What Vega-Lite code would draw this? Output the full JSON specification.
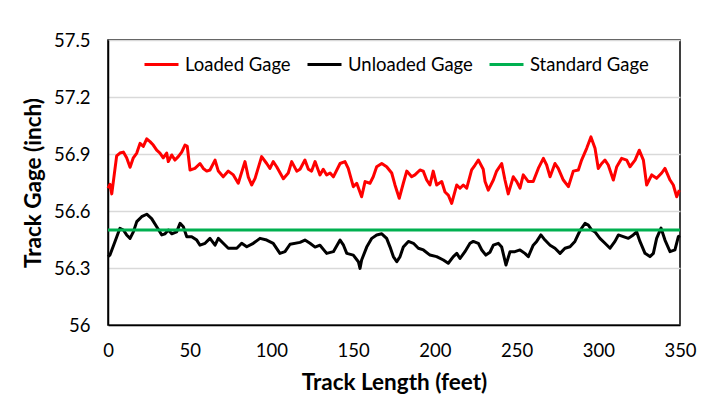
{
  "$schema": "https://vega.github.io/schema/vega-lite/v6.json",
  "width": 572,
  "height": 285,
  "autosize": {"type": "none"},
  "padding": {"left": 108, "top": 40, "right": 24, "bottom": 80},
  "background": "#ffffff",
  "config": {
    "view": {"stroke": "#000000", "strokeWidth": 1.5},
    "font": "Lato"
  },
  "datasets": {
    "gage": [
      {"s": "Loaded Gage", "ft": 0, "v": 56.72},
      {"s": "Loaded Gage", "ft": 1.2, "v": 56.74},
      {"s": "Loaded Gage", "ft": 2.3, "v": 56.69},
      {"s": "Loaded Gage", "ft": 5.3, "v": 56.89},
      {"s": "Loaded Gage", "ft": 7.3, "v": 56.905},
      {"s": "Loaded Gage", "ft": 9.4, "v": 56.91},
      {"s": "Loaded Gage", "ft": 11.4, "v": 56.88},
      {"s": "Loaded Gage", "ft": 13.5, "v": 56.83},
      {"s": "Loaded Gage", "ft": 15.5, "v": 56.88},
      {"s": "Loaded Gage", "ft": 17.6, "v": 56.905},
      {"s": "Loaded Gage", "ft": 19.6, "v": 56.956},
      {"s": "Loaded Gage", "ft": 21.6, "v": 56.94},
      {"s": "Loaded Gage", "ft": 23.7, "v": 56.98},
      {"s": "Loaded Gage", "ft": 25.7, "v": 56.965},
      {"s": "Loaded Gage", "ft": 27.7, "v": 56.947},
      {"s": "Loaded Gage", "ft": 29.8, "v": 56.92},
      {"s": "Loaded Gage", "ft": 31.8, "v": 56.905},
      {"s": "Loaded Gage", "ft": 33.8, "v": 56.88},
      {"s": "Loaded Gage", "ft": 35.9, "v": 56.905},
      {"s": "Loaded Gage", "ft": 36.9, "v": 56.86},
      {"s": "Loaded Gage", "ft": 39.0, "v": 56.895},
      {"s": "Loaded Gage", "ft": 41.0, "v": 56.868},
      {"s": "Loaded Gage", "ft": 43.0, "v": 56.886},
      {"s": "Loaded Gage", "ft": 45.1, "v": 56.91},
      {"s": "Loaded Gage", "ft": 47.1, "v": 56.947},
      {"s": "Loaded Gage", "ft": 48.5, "v": 56.94},
      {"s": "Loaded Gage", "ft": 50.2, "v": 56.816},
      {"s": "Loaded Gage", "ft": 53.2, "v": 56.824},
      {"s": "Loaded Gage", "ft": 56.3, "v": 56.85},
      {"s": "Loaded Gage", "ft": 58.3, "v": 56.824},
      {"s": "Loaded Gage", "ft": 60.4, "v": 56.81},
      {"s": "Loaded Gage", "ft": 62.4, "v": 56.816},
      {"s": "Loaded Gage", "ft": 65.5, "v": 56.868},
      {"s": "Loaded Gage", "ft": 67.5, "v": 56.81},
      {"s": "Loaded Gage", "ft": 70.5, "v": 56.78},
      {"s": "Loaded Gage", "ft": 73.6, "v": 56.81},
      {"s": "Loaded Gage", "ft": 76.7, "v": 56.79},
      {"s": "Loaded Gage", "ft": 79.7, "v": 56.746},
      {"s": "Loaded Gage", "ft": 83.8, "v": 56.86},
      {"s": "Loaded Gage", "ft": 85.8, "v": 56.78},
      {"s": "Loaded Gage", "ft": 87.9, "v": 56.737},
      {"s": "Loaded Gage", "ft": 90.0, "v": 56.772},
      {"s": "Loaded Gage", "ft": 94.0, "v": 56.886},
      {"s": "Loaded Gage", "ft": 97.1, "v": 56.85},
      {"s": "Loaded Gage", "ft": 99.1, "v": 56.824},
      {"s": "Loaded Gage", "ft": 101.1, "v": 56.86},
      {"s": "Loaded Gage", "ft": 103.2, "v": 56.833},
      {"s": "Loaded Gage", "ft": 107.3, "v": 56.77},
      {"s": "Loaded Gage", "ft": 110.3, "v": 56.8},
      {"s": "Loaded Gage", "ft": 112.4, "v": 56.86},
      {"s": "Loaded Gage", "ft": 115.5, "v": 56.81},
      {"s": "Loaded Gage", "ft": 117.5, "v": 56.82},
      {"s": "Loaded Gage", "ft": 120.5, "v": 56.868},
      {"s": "Loaded Gage", "ft": 122.6, "v": 56.82},
      {"s": "Loaded Gage", "ft": 124.6, "v": 56.81},
      {"s": "Loaded Gage", "ft": 126.7, "v": 56.86},
      {"s": "Loaded Gage", "ft": 129.7, "v": 56.79},
      {"s": "Loaded Gage", "ft": 131.7, "v": 56.82},
      {"s": "Loaded Gage", "ft": 133.8, "v": 56.79},
      {"s": "Loaded Gage", "ft": 135.9, "v": 56.8},
      {"s": "Loaded Gage", "ft": 137.9, "v": 56.78},
      {"s": "Loaded Gage", "ft": 142.0, "v": 56.85},
      {"s": "Loaded Gage", "ft": 145.0, "v": 56.86},
      {"s": "Loaded Gage", "ft": 147.0, "v": 56.824},
      {"s": "Loaded Gage", "ft": 150.1, "v": 56.728},
      {"s": "Loaded Gage", "ft": 152.2, "v": 56.746},
      {"s": "Loaded Gage", "ft": 155.2, "v": 56.675},
      {"s": "Loaded Gage", "ft": 157.3, "v": 56.755},
      {"s": "Loaded Gage", "ft": 160.3, "v": 56.746},
      {"s": "Loaded Gage", "ft": 162.3, "v": 56.78},
      {"s": "Loaded Gage", "ft": 164.4, "v": 56.833},
      {"s": "Loaded Gage", "ft": 167.5, "v": 56.85},
      {"s": "Loaded Gage", "ft": 170.5, "v": 56.833},
      {"s": "Loaded Gage", "ft": 173.6, "v": 56.8},
      {"s": "Loaded Gage", "ft": 175.6, "v": 56.737},
      {"s": "Loaded Gage", "ft": 178.2, "v": 56.667},
      {"s": "Loaded Gage", "ft": 180.7, "v": 56.746},
      {"s": "Loaded Gage", "ft": 182.8, "v": 56.81},
      {"s": "Loaded Gage", "ft": 185.8, "v": 56.78},
      {"s": "Loaded Gage", "ft": 187.8, "v": 56.79},
      {"s": "Loaded Gage", "ft": 190.9, "v": 56.816},
      {"s": "Loaded Gage", "ft": 192.9, "v": 56.81},
      {"s": "Loaded Gage", "ft": 195.0, "v": 56.763},
      {"s": "Loaded Gage", "ft": 197.0, "v": 56.737},
      {"s": "Loaded Gage", "ft": 199.0, "v": 56.81},
      {"s": "Loaded Gage", "ft": 201.1, "v": 56.737},
      {"s": "Loaded Gage", "ft": 204.2, "v": 56.755},
      {"s": "Loaded Gage", "ft": 206.2, "v": 56.7},
      {"s": "Loaded Gage", "ft": 208.2, "v": 56.684},
      {"s": "Loaded Gage", "ft": 210.3, "v": 56.64},
      {"s": "Loaded Gage", "ft": 213.4, "v": 56.737},
      {"s": "Loaded Gage", "ft": 215.4, "v": 56.72},
      {"s": "Loaded Gage", "ft": 217.4, "v": 56.737},
      {"s": "Loaded Gage", "ft": 219.5, "v": 56.72},
      {"s": "Loaded Gage", "ft": 222.5, "v": 56.816},
      {"s": "Loaded Gage", "ft": 224.6, "v": 56.842},
      {"s": "Loaded Gage", "ft": 226.6, "v": 56.868},
      {"s": "Loaded Gage", "ft": 229.6, "v": 56.82},
      {"s": "Loaded Gage", "ft": 230.7, "v": 56.755},
      {"s": "Loaded Gage", "ft": 232.7, "v": 56.71},
      {"s": "Loaded Gage", "ft": 235.8, "v": 56.763},
      {"s": "Loaded Gage", "ft": 237.8, "v": 56.81},
      {"s": "Loaded Gage", "ft": 240.9, "v": 56.85},
      {"s": "Loaded Gage", "ft": 242.9, "v": 56.763},
      {"s": "Loaded Gage", "ft": 244.9, "v": 56.69},
      {"s": "Loaded Gage", "ft": 248.0, "v": 56.78},
      {"s": "Loaded Gage", "ft": 250.1, "v": 56.755},
      {"s": "Loaded Gage", "ft": 252.1, "v": 56.72},
      {"s": "Loaded Gage", "ft": 254.1, "v": 56.79},
      {"s": "Loaded Gage", "ft": 257.2, "v": 56.755},
      {"s": "Loaded Gage", "ft": 260.2, "v": 56.755},
      {"s": "Loaded Gage", "ft": 263.3, "v": 56.824},
      {"s": "Loaded Gage", "ft": 266.4, "v": 56.877},
      {"s": "Loaded Gage", "ft": 268.4, "v": 56.842},
      {"s": "Loaded Gage", "ft": 270.5, "v": 56.78},
      {"s": "Loaded Gage", "ft": 273.5, "v": 56.85},
      {"s": "Loaded Gage", "ft": 275.5, "v": 56.824},
      {"s": "Loaded Gage", "ft": 278.6, "v": 56.763},
      {"s": "Loaded Gage", "ft": 281.7, "v": 56.728},
      {"s": "Loaded Gage", "ft": 284.7, "v": 56.81},
      {"s": "Loaded Gage", "ft": 287.8, "v": 56.816},
      {"s": "Loaded Gage", "ft": 289.8, "v": 56.868},
      {"s": "Loaded Gage", "ft": 292.9, "v": 56.93},
      {"s": "Loaded Gage", "ft": 295.5, "v": 56.99},
      {"s": "Loaded Gage", "ft": 298.0, "v": 56.93},
      {"s": "Loaded Gage", "ft": 300.0, "v": 56.824},
      {"s": "Loaded Gage", "ft": 302.1, "v": 56.85},
      {"s": "Loaded Gage", "ft": 304.1, "v": 56.868},
      {"s": "Loaded Gage", "ft": 306.1, "v": 56.842},
      {"s": "Loaded Gage", "ft": 309.2, "v": 56.763},
      {"s": "Loaded Gage", "ft": 311.3, "v": 56.833},
      {"s": "Loaded Gage", "ft": 314.3, "v": 56.877},
      {"s": "Loaded Gage", "ft": 317.4, "v": 56.868},
      {"s": "Loaded Gage", "ft": 319.4, "v": 56.833},
      {"s": "Loaded Gage", "ft": 322.5, "v": 56.868},
      {"s": "Loaded Gage", "ft": 325.1, "v": 56.92},
      {"s": "Loaded Gage", "ft": 327.6, "v": 56.868},
      {"s": "Loaded Gage", "ft": 329.6, "v": 56.737},
      {"s": "Loaded Gage", "ft": 332.7, "v": 56.79},
      {"s": "Loaded Gage", "ft": 335.7, "v": 56.772},
      {"s": "Loaded Gage", "ft": 338.8, "v": 56.8},
      {"s": "Loaded Gage", "ft": 340.8, "v": 56.824},
      {"s": "Loaded Gage", "ft": 343.9, "v": 56.763},
      {"s": "Loaded Gage", "ft": 345.9, "v": 56.737},
      {"s": "Loaded Gage", "ft": 348.0, "v": 56.675},
      {"s": "Loaded Gage", "ft": 349.6, "v": 56.71},

      {"s": "Unloaded Gage", "ft": 0, "v": 56.36},
      {"s": "Unloaded Gage", "ft": 1.2, "v": 56.368},
      {"s": "Unloaded Gage", "ft": 4.3, "v": 56.44},
      {"s": "Unloaded Gage", "ft": 7.3, "v": 56.509},
      {"s": "Unloaded Gage", "ft": 9.4, "v": 56.5},
      {"s": "Unloaded Gage", "ft": 11.4, "v": 56.474},
      {"s": "Unloaded Gage", "ft": 13.5, "v": 56.456},
      {"s": "Unloaded Gage", "ft": 15.5, "v": 56.49},
      {"s": "Unloaded Gage", "ft": 17.6, "v": 56.544},
      {"s": "Unloaded Gage", "ft": 20.6, "v": 56.57},
      {"s": "Unloaded Gage", "ft": 23.7, "v": 56.583},
      {"s": "Unloaded Gage", "ft": 26.7, "v": 56.56},
      {"s": "Unloaded Gage", "ft": 29.8, "v": 56.517},
      {"s": "Unloaded Gage", "ft": 32.9, "v": 56.474},
      {"s": "Unloaded Gage", "ft": 34.9, "v": 56.48},
      {"s": "Unloaded Gage", "ft": 36.9, "v": 56.5},
      {"s": "Unloaded Gage", "ft": 39.0, "v": 56.48},
      {"s": "Unloaded Gage", "ft": 42.0, "v": 56.49},
      {"s": "Unloaded Gage", "ft": 44.1, "v": 56.535},
      {"s": "Unloaded Gage", "ft": 46.1, "v": 56.517},
      {"s": "Unloaded Gage", "ft": 48.2, "v": 56.465},
      {"s": "Unloaded Gage", "ft": 51.2, "v": 56.465},
      {"s": "Unloaded Gage", "ft": 54.3, "v": 56.447},
      {"s": "Unloaded Gage", "ft": 56.3, "v": 56.42},
      {"s": "Unloaded Gage", "ft": 59.4, "v": 56.43},
      {"s": "Unloaded Gage", "ft": 62.4, "v": 56.456},
      {"s": "Unloaded Gage", "ft": 65.5, "v": 56.42},
      {"s": "Unloaded Gage", "ft": 67.5, "v": 56.456},
      {"s": "Unloaded Gage", "ft": 70.5, "v": 56.43},
      {"s": "Unloaded Gage", "ft": 73.6, "v": 56.404},
      {"s": "Unloaded Gage", "ft": 78.8, "v": 56.404},
      {"s": "Unloaded Gage", "ft": 81.8, "v": 56.43},
      {"s": "Unloaded Gage", "ft": 84.9, "v": 56.412},
      {"s": "Unloaded Gage", "ft": 88.9, "v": 56.43},
      {"s": "Unloaded Gage", "ft": 93.0, "v": 56.456},
      {"s": "Unloaded Gage", "ft": 97.1, "v": 56.447},
      {"s": "Unloaded Gage", "ft": 101.1, "v": 56.43},
      {"s": "Unloaded Gage", "ft": 105.2, "v": 56.377},
      {"s": "Unloaded Gage", "ft": 108.3, "v": 56.386},
      {"s": "Unloaded Gage", "ft": 111.4, "v": 56.425},
      {"s": "Unloaded Gage", "ft": 117.5, "v": 56.435},
      {"s": "Unloaded Gage", "ft": 120.5, "v": 56.447},
      {"s": "Unloaded Gage", "ft": 123.6, "v": 56.43},
      {"s": "Unloaded Gage", "ft": 126.7, "v": 56.41},
      {"s": "Unloaded Gage", "ft": 129.7, "v": 56.42},
      {"s": "Unloaded Gage", "ft": 133.8, "v": 56.377},
      {"s": "Unloaded Gage", "ft": 137.9, "v": 56.386},
      {"s": "Unloaded Gage", "ft": 142.0, "v": 56.447},
      {"s": "Unloaded Gage", "ft": 144.1, "v": 56.42},
      {"s": "Unloaded Gage", "ft": 146.1, "v": 56.377},
      {"s": "Unloaded Gage", "ft": 150.1, "v": 56.368},
      {"s": "Unloaded Gage", "ft": 153.2, "v": 56.333},
      {"s": "Unloaded Gage", "ft": 154.2, "v": 56.298},
      {"s": "Unloaded Gage", "ft": 155.2, "v": 56.342},
      {"s": "Unloaded Gage", "ft": 158.3, "v": 56.41},
      {"s": "Unloaded Gage", "ft": 161.4, "v": 56.456},
      {"s": "Unloaded Gage", "ft": 164.4, "v": 56.474},
      {"s": "Unloaded Gage", "ft": 167.5, "v": 56.48},
      {"s": "Unloaded Gage", "ft": 170.5, "v": 56.456},
      {"s": "Unloaded Gage", "ft": 172.6, "v": 56.41},
      {"s": "Unloaded Gage", "ft": 174.6, "v": 56.36},
      {"s": "Unloaded Gage", "ft": 176.7, "v": 56.333},
      {"s": "Unloaded Gage", "ft": 178.7, "v": 56.36},
      {"s": "Unloaded Gage", "ft": 180.7, "v": 56.41},
      {"s": "Unloaded Gage", "ft": 183.8, "v": 56.44},
      {"s": "Unloaded Gage", "ft": 186.9, "v": 56.43},
      {"s": "Unloaded Gage", "ft": 189.9, "v": 56.404},
      {"s": "Unloaded Gage", "ft": 193.0, "v": 56.395},
      {"s": "Unloaded Gage", "ft": 197.0, "v": 56.368},
      {"s": "Unloaded Gage", "ft": 201.1, "v": 56.36},
      {"s": "Unloaded Gage", "ft": 205.2, "v": 56.342},
      {"s": "Unloaded Gage", "ft": 208.2, "v": 56.325},
      {"s": "Unloaded Gage", "ft": 211.3, "v": 56.36},
      {"s": "Unloaded Gage", "ft": 213.4, "v": 56.377},
      {"s": "Unloaded Gage", "ft": 215.4, "v": 56.35},
      {"s": "Unloaded Gage", "ft": 218.4, "v": 56.386},
      {"s": "Unloaded Gage", "ft": 221.5, "v": 56.43},
      {"s": "Unloaded Gage", "ft": 223.5, "v": 56.44},
      {"s": "Unloaded Gage", "ft": 226.6, "v": 56.43},
      {"s": "Unloaded Gage", "ft": 228.7, "v": 56.395},
      {"s": "Unloaded Gage", "ft": 231.2, "v": 56.368},
      {"s": "Unloaded Gage", "ft": 233.7, "v": 56.383},
      {"s": "Unloaded Gage", "ft": 235.8, "v": 56.42},
      {"s": "Unloaded Gage", "ft": 238.8, "v": 56.43},
      {"s": "Unloaded Gage", "ft": 240.9, "v": 56.41},
      {"s": "Unloaded Gage", "ft": 243.5, "v": 56.316},
      {"s": "Unloaded Gage", "ft": 246.0, "v": 56.386},
      {"s": "Unloaded Gage", "ft": 249.0, "v": 56.386},
      {"s": "Unloaded Gage", "ft": 252.1, "v": 56.395},
      {"s": "Unloaded Gage", "ft": 255.1, "v": 56.377},
      {"s": "Unloaded Gage", "ft": 257.2, "v": 56.36},
      {"s": "Unloaded Gage", "ft": 260.2, "v": 56.42},
      {"s": "Unloaded Gage", "ft": 262.3, "v": 56.44},
      {"s": "Unloaded Gage", "ft": 264.9, "v": 56.474},
      {"s": "Unloaded Gage", "ft": 267.4, "v": 56.447},
      {"s": "Unloaded Gage", "ft": 270.5, "v": 56.42},
      {"s": "Unloaded Gage", "ft": 273.5, "v": 56.404},
      {"s": "Unloaded Gage", "ft": 276.6, "v": 56.377},
      {"s": "Unloaded Gage", "ft": 279.6, "v": 56.404},
      {"s": "Unloaded Gage", "ft": 282.7, "v": 56.412},
      {"s": "Unloaded Gage", "ft": 285.7, "v": 56.44},
      {"s": "Unloaded Gage", "ft": 289.0, "v": 56.5},
      {"s": "Unloaded Gage", "ft": 291.9, "v": 56.535},
      {"s": "Unloaded Gage", "ft": 293.9, "v": 56.526},
      {"s": "Unloaded Gage", "ft": 296.0, "v": 56.5},
      {"s": "Unloaded Gage", "ft": 298.0, "v": 56.49},
      {"s": "Unloaded Gage", "ft": 301.0, "v": 56.456},
      {"s": "Unloaded Gage", "ft": 304.1, "v": 56.43},
      {"s": "Unloaded Gage", "ft": 307.2, "v": 56.404},
      {"s": "Unloaded Gage", "ft": 310.2, "v": 56.44},
      {"s": "Unloaded Gage", "ft": 312.3, "v": 56.474},
      {"s": "Unloaded Gage", "ft": 315.3, "v": 56.465},
      {"s": "Unloaded Gage", "ft": 318.4, "v": 56.456},
      {"s": "Unloaded Gage", "ft": 321.4, "v": 56.474},
      {"s": "Unloaded Gage", "ft": 323.5, "v": 56.49},
      {"s": "Unloaded Gage", "ft": 325.5, "v": 56.44},
      {"s": "Unloaded Gage", "ft": 328.6, "v": 56.377},
      {"s": "Unloaded Gage", "ft": 331.6, "v": 56.36},
      {"s": "Unloaded Gage", "ft": 333.7, "v": 56.377},
      {"s": "Unloaded Gage", "ft": 335.7, "v": 56.456},
      {"s": "Unloaded Gage", "ft": 338.4, "v": 56.51},
      {"s": "Unloaded Gage", "ft": 340.8, "v": 56.447},
      {"s": "Unloaded Gage", "ft": 343.9, "v": 56.386},
      {"s": "Unloaded Gage", "ft": 346.9, "v": 56.395},
      {"s": "Unloaded Gage", "ft": 349.0, "v": 56.465},
      {"s": "Unloaded Gage", "ft": 350, "v": 56.47},

      {"s": "Standard Gage", "ft": 0, "v": 56.5},
      {"s": "Standard Gage", "ft": 350, "v": 56.5}
    ]
  },
  "data": {"name": "gage"},
  "mark": {"type": "line", "strokeWidth": 3, "strokeJoin": "round"},
  "encoding": {
    "x": {
      "field": "ft",
      "type": "quantitative",
      "scale": {"domain": [0, 350], "nice": false},
      "axis": {
        "title": "Track Length (feet)",
        "values": [0, 50, 100, 150, 200, 250, 300, 350],
        "grid": false,
        "ticks": false,
        "labelFlush": false,
        "domainColor": "#000000",
        "domainWidth": 1.5,
        "labelFontSize": 18.5,
        "labelColor": "#000000",
        "labelPadding": 16,
        "labelFont": "Lato",
        "titleFont": "Lato",
        "titleFontSize": 22.5,
        "titleFontWeight": "bold",
        "titleColor": "#000000",
        "titlePadding": 12
      }
    },
    "y": {
      "field": "v",
      "type": "quantitative",
      "scale": {"domain": [56, 57.5], "nice": false, "zero": false},
      "axis": {
        "title": "Track Gage (inch)",
        "values": [56, 56.3, 56.6, 56.9, 57.2, 57.5],
        "labelExpr": "datum.value == 56 ? '56' : format(datum.value, '.1f')",
        "grid": true,
        "gridColor": "#D9D9D9",
        "gridWidth": 1.5,
        "ticks": false,
        "domainColor": "#000000",
        "domainWidth": 1.5,
        "labelFontSize": 18.5,
        "labelColor": "#000000",
        "labelPadding": 18,
        "labelFont": "Lato",
        "titleFont": "Lato",
        "titleFontSize": 22.5,
        "titleFontWeight": "bold",
        "titleColor": "#000000",
        "titlePadding": 8
      }
    },
    "color": {
      "field": "s",
      "type": "nominal",
      "scale": {
        "domain": ["Loaded Gage", "Unloaded Gage", "Standard Gage"],
        "range": ["#FF0000", "#000000", "#00B050"]
      },
      "legend": {
        "title": null,
        "orient": "none",
        "direction": "horizontal",
        "legendX": 35,
        "legendY": 6,
        "symbolType": "stroke",
        "symbolSize": 1156,
        "symbolStrokeWidth": 3,
        "labelFontSize": 18.5,
        "labelFont": "Lato",
        "labelColor": "#000000",
        "labelOffset": 5,
        "columnPadding": 10,
        "padding": 0
      }
    }
  }
}
